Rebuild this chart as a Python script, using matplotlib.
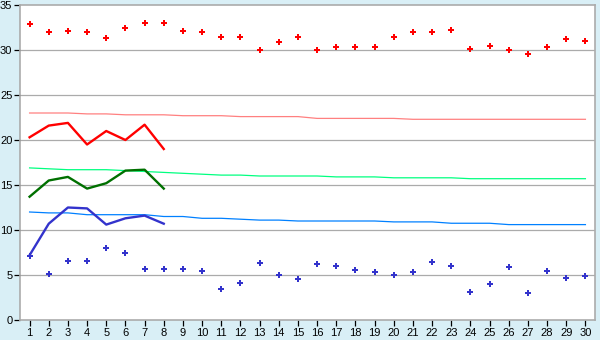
import numpy as np
import matplotlib
matplotlib.use("Agg")
import matplotlib.pyplot as plt

# Days of the month
days = list(range(1, 31))

# Daily maximum / minimum markers
max_temp = [32.9, 32.0, 32.1, 32.0, 31.3, 32.5, 33.0, 33.0, 32.1, 32.0,
            31.4, 31.4, 30.0, 30.9, 31.4, 30.0, 30.3, 30.3, 30.3, 31.5,
            32.0, 32.0, 32.2, 30.1, 30.5, 30.0, 29.6, 30.3, 31.2, 31.0]
min_temp = [7.1, 5.1, 6.6, 6.6, 8.0, 7.5, 5.7, 5.7, 5.7, 5.5,
            3.5, 4.1, 6.3, 5.0, 4.6, 6.2, 6.0, 5.6, 5.3, 5.0,
            5.3, 6.5, 6.0, 3.1, 4.0, 5.9, 3.0, 5.5, 4.7, 4.9]

# Reference (normal) curves over the whole month
norm_high = [23.0, 23.0, 23.0, 22.9, 22.9, 22.8, 22.8, 22.8, 22.7, 22.7,
             22.7, 22.6, 22.6, 22.6, 22.6, 22.4, 22.4, 22.4, 22.4, 22.4,
             22.3, 22.3, 22.3, 22.3, 22.3, 22.3, 22.3, 22.3, 22.3, 22.3]
norm_mean = [16.9, 16.8, 16.7, 16.7, 16.7, 16.6, 16.5, 16.4, 16.3, 16.2,
             16.1, 16.1, 16.0, 16.0, 16.0, 16.0, 15.9, 15.9, 15.9, 15.8,
             15.8, 15.8, 15.8, 15.7, 15.7, 15.7, 15.7, 15.7, 15.7, 15.7]
norm_low = [12.0, 11.9, 11.9, 11.7, 11.7, 11.7, 11.7, 11.5, 11.5, 11.3,
            11.3, 11.2, 11.1, 11.1, 11.0, 11.0, 11.0, 11.0, 11.0, 10.9,
            10.9, 10.9, 10.75, 10.75, 10.75, 10.6, 10.6, 10.6, 10.6, 10.6]

# Observed curves (first 8 days)
obs_days = list(range(1, 9))
obs_high = [20.3, 21.6, 21.9, 19.5, 21.0, 20.0, 21.7, 19.0]
obs_mean = [13.7, 15.5, 15.9, 14.6, 15.2, 16.6, 16.7, 14.6]
obs_low = [7.2, 10.7, 12.5, 12.4, 10.6, 11.3, 11.6, 10.7]

plt.rcParams["font.family"] = ["Liberation Sans", "DejaVu Sans"]

bg = "#D9EFF6"
fig = plt.figure(figsize=(6, 3.4), dpi=100, facecolor=bg)
ax = fig.add_axes([20 / 600, 20 / 340, 575 / 600, 315 / 340])
ax.set_facecolor("white")

for v in range(5, 35, 5):
    ax.axhline(v, color="#ABABAB", lw=0.9, zorder=1)

ax.plot(days, norm_high, color="#FF8080", lw=0.9, zorder=2)
ax.plot(days, norm_mean, color="#00FF80", lw=0.9, zorder=2)
ax.plot(days, norm_low, color="#0080FF", lw=0.9, zorder=2)

ax.plot(obs_days, obs_high, color="#FF0000", lw=1.7, zorder=3)
ax.plot(obs_days, obs_mean, color="#007000", lw=1.7, zorder=3)
ax.plot(obs_days, obs_low, color="#3333CC", lw=1.7, zorder=3)

ax.plot(days, max_temp, ls="none", marker="P", ms=5, color="#FF0000",
        markeredgewidth=0, zorder=4)
ax.plot(days, min_temp, ls="none", marker="P", ms=5, color="#3333CC",
        markeredgewidth=0, zorder=4)

ax.set_xlim(0.5, 30.5)
ax.set_ylim(0, 35)
ax.set_xticks(days)
ax.set_yticks(range(0, 40, 5))
ax.tick_params(axis="both", direction="out", length=4, width=0.9,
               color="black", labelsize=8, pad=1.5)

for s in ax.spines.values():
    s.set_color("#ABABAB")
    s.set_linewidth(1.2)

fig.savefig("out.png", dpi=100, facecolor=bg)
